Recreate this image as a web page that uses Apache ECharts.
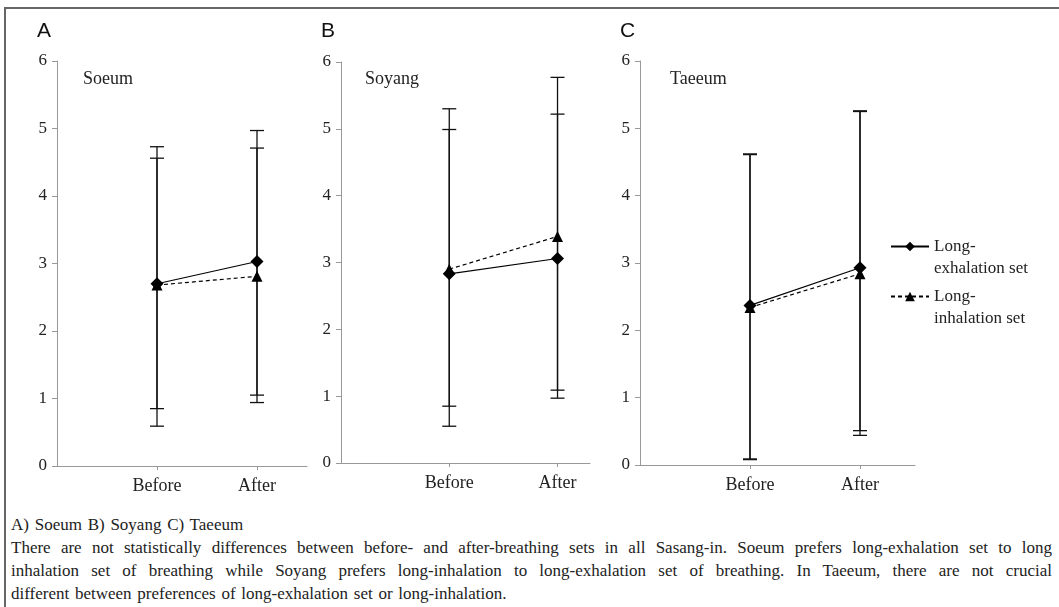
<!DOCTYPE html>
<html>
<head>
<meta charset="utf-8">
<script src="https://cdn.jsdelivr.net/npm/echarts@6/dist/echarts.min.js"></script>
<style>
  html, body { margin: 0; padding: 0; background: #fff; }
  #wrap { position: relative; width: 1059px; height: 607px; overflow: hidden; }
  #frame { position: absolute; left: 4px; top: 7px; right: -4px; bottom: -4px;
           border-left: 2px solid #666; border-top: 2px solid #666; }
  #main { position: absolute; left: 0; top: 0; width: 1059px; height: 505px; }
  #caption { position: absolute; left: 11px; top: 513px; width: 1041px;
             font-family: "Liberation Serif", "Times New Roman", "DejaVu Serif", serif; font-size: 17px;
             line-height: 23px; color: #222; word-spacing: 1.5px; }
  #caption .j { text-align: justify; text-align-last: justify; white-space: nowrap; }
</style>
</head>
<body>
<div id="wrap">
  <div id="frame"></div>
  <div id="main"></div>
  <div id="caption">
    <div>A) Soeum B) Soyang C) Taeeum</div>
    <div class="j">There are not statistically differences between before- and after-breathing sets in all Sasang-in. Soeum prefers long-exhalation set to long</div>
    <div class="j">inhalation set of breathing while Soyang prefers long-inhalation to long-exhalation set of breathing. In Taeeum, there are not crucial</div>
    <div>different between preferences of long-exhalation set or long-inhalation.</div>
  </div>
</div>
<script>
// categories on the x axis (placed at x = 1 and x = 2)
const categories = ["Before", "After"];
const catPos = [1, 2];
const yTicks = [0, 1, 2, 3, 4, 5, 6];

const panelLetters = ["A", "B", "C"];
const panelNames = ["Soeum", "Soyang", "Taeeum"];
const seriesNames = ["Long-exhalation set", "Long-inhalation set"];

// means (Before, After)
const soeumExh = [2.70, 3.03];
const soeumInh = [2.68, 2.81];
const soyangExh = [2.83, 3.06];
const soyangInh = [2.90, 3.39];
const taeeumExh = [2.37, 2.93];
const taeeumInh = [2.34, 2.84];

// error bar ends (Before, After)
const soeumExhLow = [0.85, 1.05];
const soeumExhHigh = [4.56, 4.97];
const soeumInhLow = [0.59, 0.94];
const soeumInhHigh = [4.73, 4.71];
const soyangExhLow = [0.85, 1.09];
const soyangExhHigh = [4.99, 5.22];
const soyangInhLow = [0.55, 0.97];
const soyangInhHigh = [5.30, 5.77];
const taeeumExhLow = [0.09, 0.51];
const taeeumExhHigh = [4.62, 5.26];
const taeeumInhLow = [0.08, 0.44];
const taeeumInhHigh = [4.61, 5.25];

const panels = [
  { exh: soeumExh, inh: soeumInh, exhLo: soeumExhLow, exhHi: soeumExhHigh, inhLo: soeumInhLow, inhHi: soeumInhHigh },
  { exh: soyangExh, inh: soyangInh, exhLo: soyangExhLow, exhHi: soyangExhHigh, inhLo: soyangInhLow, inhHi: soyangInhHigh },
  { exh: taeeumExh, inh: taeeumInh, exhLo: taeeumExhLow, exhHi: taeeumExhHigh, inhLo: taeeumInhLow, inhHi: taeeumInhHigh }
];

const SERIF = "'Liberation Serif', 'Times New Roman', 'DejaVu Serif', serif";
const grids = [
  { left: 57, top: 61, width: 250, height: 405 },
  { left: 341, top: 62, width: 249, height: 401 },
  { left: 640, top: 61, width: 275, height: 404 }
];
const xMax = [2.5, 2.3, 2.5];
const letterPos = [[37, 21], [321, 21], [620, 21]];
const namePos = [[83, 70], [365, 70], [670, 70]];

function renderErr(params, api) {
  const x = api.value(0);
  const pLo = api.coord([x, api.value(1)]);
  const pHi = api.coord([x, api.value(2)]);
  const w = 7;
  const st = { stroke: "#111", lineWidth: 1.3 };
  return {
    type: "group",
    children: [
      { type: "line", shape: { x1: pLo[0], y1: pLo[1], x2: pHi[0], y2: pHi[1] }, style: st },
      { type: "line", shape: { x1: pLo[0] - w, y1: pLo[1], x2: pLo[0] + w, y2: pLo[1] }, style: st },
      { type: "line", shape: { x1: pHi[0] - w, y1: pHi[1], x2: pHi[0] + w, y2: pHi[1] }, style: st }
    ]
  };
}

const xAxis = [], yAxis = [], series = [], title = [];
panels.forEach(function (p, i) {
  xAxis.push({
    type: "value", gridIndex: i, min: 0, max: xMax[i], interval: 1,
    axisLine: { lineStyle: { color: "#999", width: 1 } },
    axisTick: { length: 4, customValues: catPos, lineStyle: { color: "#999" } },
    axisLabel: {
      customValues: catPos, margin: 11, color: "#222", fontFamily: SERIF, fontSize: 18,
      formatter: function (v) { const k = catPos.indexOf(v); return k >= 0 ? categories[k] : ""; }
    },
    splitLine: { show: false }
  });
  yAxis.push({
    type: "value", gridIndex: i, min: yTicks[0], max: yTicks[yTicks.length - 1], interval: 1,
    axisLine: { show: true, lineStyle: { color: "#999", width: 1 } },
    axisTick: { show: true, length: 5, lineStyle: { color: "#999" } },
    axisLabel: { margin: 10, color: "#222", fontFamily: SERIF, fontSize: 17 },
    splitLine: { show: false }
  });
  const errData = [];
  catPos.forEach(function (x, k) {
    errData.push([x, p.exhLo[k], p.exhHi[k]]);
    errData.push([x, p.inhLo[k], p.inhHi[k]]);
  });
  series.push({
    type: "custom", xAxisIndex: i, yAxisIndex: i, renderItem: renderErr,
    data: errData, silent: true, z: 1
  });
  series.push({
    name: seriesNames[0], type: "line", xAxisIndex: i, yAxisIndex: i, z: 3,
    data: catPos.map(function (x, k) { return [x, p.exh[k]]; }),
    symbol: "diamond", symbolSize: 13,
    itemStyle: { color: "#000" },
    lineStyle: { color: "#000", width: 1.2 }
  });
  series.push({
    name: seriesNames[1], type: "line", xAxisIndex: i, yAxisIndex: i, z: 2,
    data: catPos.map(function (x, k) { return [x, p.inh[k]]; }),
    symbol: "triangle", symbolSize: 11,
    itemStyle: { color: "#000" },
    lineStyle: { color: "#000", width: 1.2, type: [4, 3] }
  });
  title.push({
    text: panelLetters[i], left: letterPos[i][0], top: letterPos[i][1], padding: 0,
    textStyle: { fontFamily: "'Liberation Sans', Arial, sans-serif", fontSize: 21, fontWeight: "normal", color: "#111" }
  });
  title.push({
    text: panelNames[i], left: namePos[i][0], top: namePos[i][1], padding: 0,
    textStyle: { fontFamily: SERIF, fontSize: 18, fontWeight: "normal", color: "#222" }
  });
});

function legendFormatter(name) {
  return "{s| }\n{t|Long-}\n{t|" + name.replace("Long-", "") + "}";
}
const legendText = {
  fontFamily: SERIF, fontSize: 17, color: "#222",
  rich: {
    s: { fontFamily: SERIF, fontSize: 17, lineHeight: 22 },
    t: { fontFamily: SERIF, fontSize: 17, lineHeight: 22, color: "#222" }
  }
};
const legend = seriesNames.map(function (n, k) {
  return {
    data: [n], left: 890, top: k === 0 ? 216 : 266, padding: 0,
    itemWidth: 38, itemHeight: 12, selectedMode: false,
    formatter: legendFormatter, textStyle: legendText
  };
});

const myChart = echarts.init(document.getElementById("main"));
myChart.setOption({
  animation: false,
  backgroundColor: "transparent",
  title: title,
  legend: legend,
  grid: grids,
  xAxis: xAxis,
  yAxis: yAxis,
  series: series
});
</script>
</body>
</html>
